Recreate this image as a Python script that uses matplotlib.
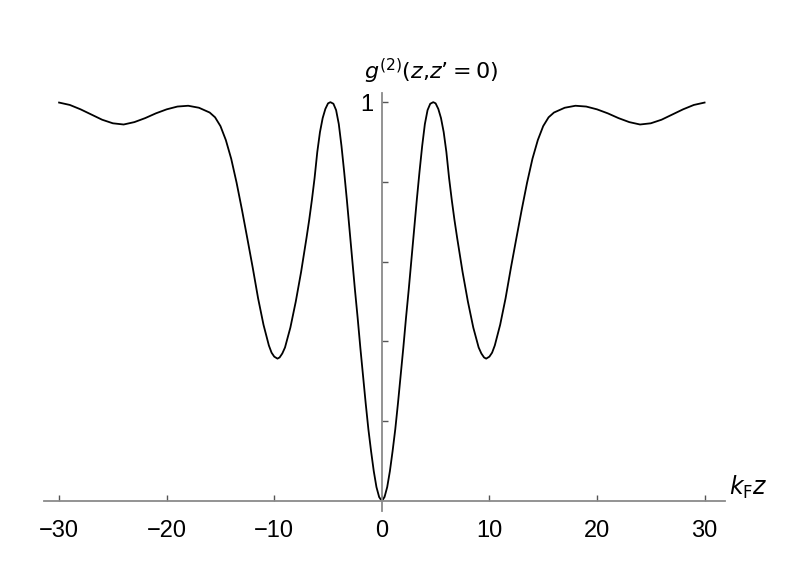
import matplotlib
matplotlib.use("Agg")
import matplotlib.pyplot as plt

# values, left half (kF z < 0)
z_left = [-30.0, -29.0, -28.0, -27.0, -26.0, -25.0, -24.0, -23.0, -22.0, -21.0,
          -20.0, -19.0, -18.0, -17.0, -16.0, -15.5, -15.0, -14.5, -14.0, -13.5,
          -13.0, -12.5, -12.0, -11.5, -11.0, -10.5, -10.25, -10.0, -9.7, -9.5,
          -9.25, -9.0, -8.5, -8.0, -7.5, -7.0, -6.75, -6.5, -6.25, -6.0,
          -5.75, -5.5, -5.25, -5.0, -4.78, -4.5, -4.25, -4.0, -3.75, -3.5,
          -3.25, -3.0, -2.75, -2.5, -2.25, -2.0, -1.75, -1.5, -1.25, -1.0,
          -0.75, -0.5, -0.25]
g_left = [0.999, 0.993, 0.982, 0.969, 0.956, 0.947, 0.944, 0.950, 0.960, 0.972,
          0.982, 0.989, 0.991, 0.986, 0.974, 0.962, 0.940, 0.905, 0.858, 0.798,
          0.730, 0.658, 0.585, 0.508, 0.442, 0.390, 0.372, 0.362, 0.357, 0.360,
          0.370, 0.385, 0.435, 0.500, 0.575, 0.660, 0.705, 0.755, 0.810, 0.875,
          0.925, 0.960, 0.983, 0.997, 1.000, 0.996, 0.980, 0.945, 0.890, 0.825,
          0.755, 0.680, 0.605, 0.530, 0.460, 0.385, 0.315, 0.245, 0.180, 0.125,
          0.075, 0.035, 0.010]

# right half (kF z >= 0)
z_right = [0.0, 0.25, 0.5, 0.75, 1.0, 1.25, 1.5, 1.75, 2.0, 2.25,
           2.5, 2.75, 3.0, 3.25, 3.5, 3.75, 4.0, 4.25, 4.5, 4.78,
           5.0, 5.25, 5.5, 5.75, 6.0, 6.25, 6.5, 6.75, 7.0, 7.5,
           8.0, 8.5, 9.0, 9.25, 9.5, 9.7, 10.0, 10.25, 10.5, 11.0,
           11.5, 12.0, 12.5, 13.0, 13.5, 14.0, 14.5, 15.0, 15.5, 16.0,
           17.0, 18.0, 19.0, 20.0, 21.0, 22.0, 23.0, 24.0, 25.0, 26.0,
           27.0, 28.0, 29.0, 30.0]
g_right = [0.000, 0.010, 0.035, 0.075, 0.125, 0.180, 0.245, 0.315, 0.385, 0.460,
           0.530, 0.605, 0.680, 0.755, 0.825, 0.890, 0.945, 0.980, 0.996, 1.000,
           0.997, 0.983, 0.960, 0.925, 0.875, 0.810, 0.755, 0.705, 0.660, 0.575,
           0.500, 0.435, 0.385, 0.370, 0.360, 0.357, 0.362, 0.372, 0.390, 0.442,
           0.508, 0.585, 0.658, 0.730, 0.798, 0.858, 0.905, 0.940, 0.962, 0.974,
           0.986, 0.991, 0.989, 0.982, 0.972, 0.960, 0.950, 0.944, 0.947, 0.956,
           0.969, 0.982, 0.993, 0.999]

x_ticks = [-30, -20, -10, 0, 10, 20, 30]
y_ticks = [0.2, 0.4, 0.6, 0.8, 1.0]
y_ticklabels = ["", "", "", "", "1"]

font = ["Liberation Sans Narrow", "Liberation Sans", "DejaVu Sans"]
plt.rcParams["font.family"] = font
plt.rcParams["mathtext.fontset"] = "custom"
plt.rcParams["mathtext.rm"] = "Liberation Sans Narrow"
plt.rcParams["mathtext.it"] = "Liberation Sans Narrow:italic"

fig = plt.figure(figsize=(7.99, 5.83), dpi=100)
ax = fig.add_axes([0.0551, 0.1235, 0.8523, 0.717])

ax.plot(z_left + z_right, g_left + g_right, color="black", lw=1.3)

ax.set_xlim(-31.4, 31.9)
ax.set_ylim(-0.025, 1.023)

# axes crossing at the origin
for s in ["top", "right"]:
    ax.spines[s].set_visible(False)
ax.spines["left"].set_position(("data", 0))
ax.spines["bottom"].set_position(("data", 0))
for s in ["left", "bottom"]:
    ax.spines[s].set_color("#8a8a8a")
    ax.spines[s].set_linewidth(1.3)

ax.set_xticks(x_ticks)
ax.set_xticklabels([str(t).replace("-", "\u2212") for t in x_ticks])
ax.set_yticks(y_ticks)
ax.set_yticklabels(y_ticklabels)
ax.tick_params(axis="both", direction="in", length=4, width=1, color="#555555",
               labelsize=17)
ax.tick_params(axis="x", pad=14)
ax.tick_params(axis="y", pad=6)

ax.text(4.6, 1.057, "$g^{(2)}(z{,}z\u2019 = 0)$", fontsize=16, ha="center",
        va="baseline")
ax.text(32.3, 0.0, "$k_\\mathrm{F}z$", fontsize=17, ha="left", va="bottom")

fig.savefig("out.png", dpi=100)
